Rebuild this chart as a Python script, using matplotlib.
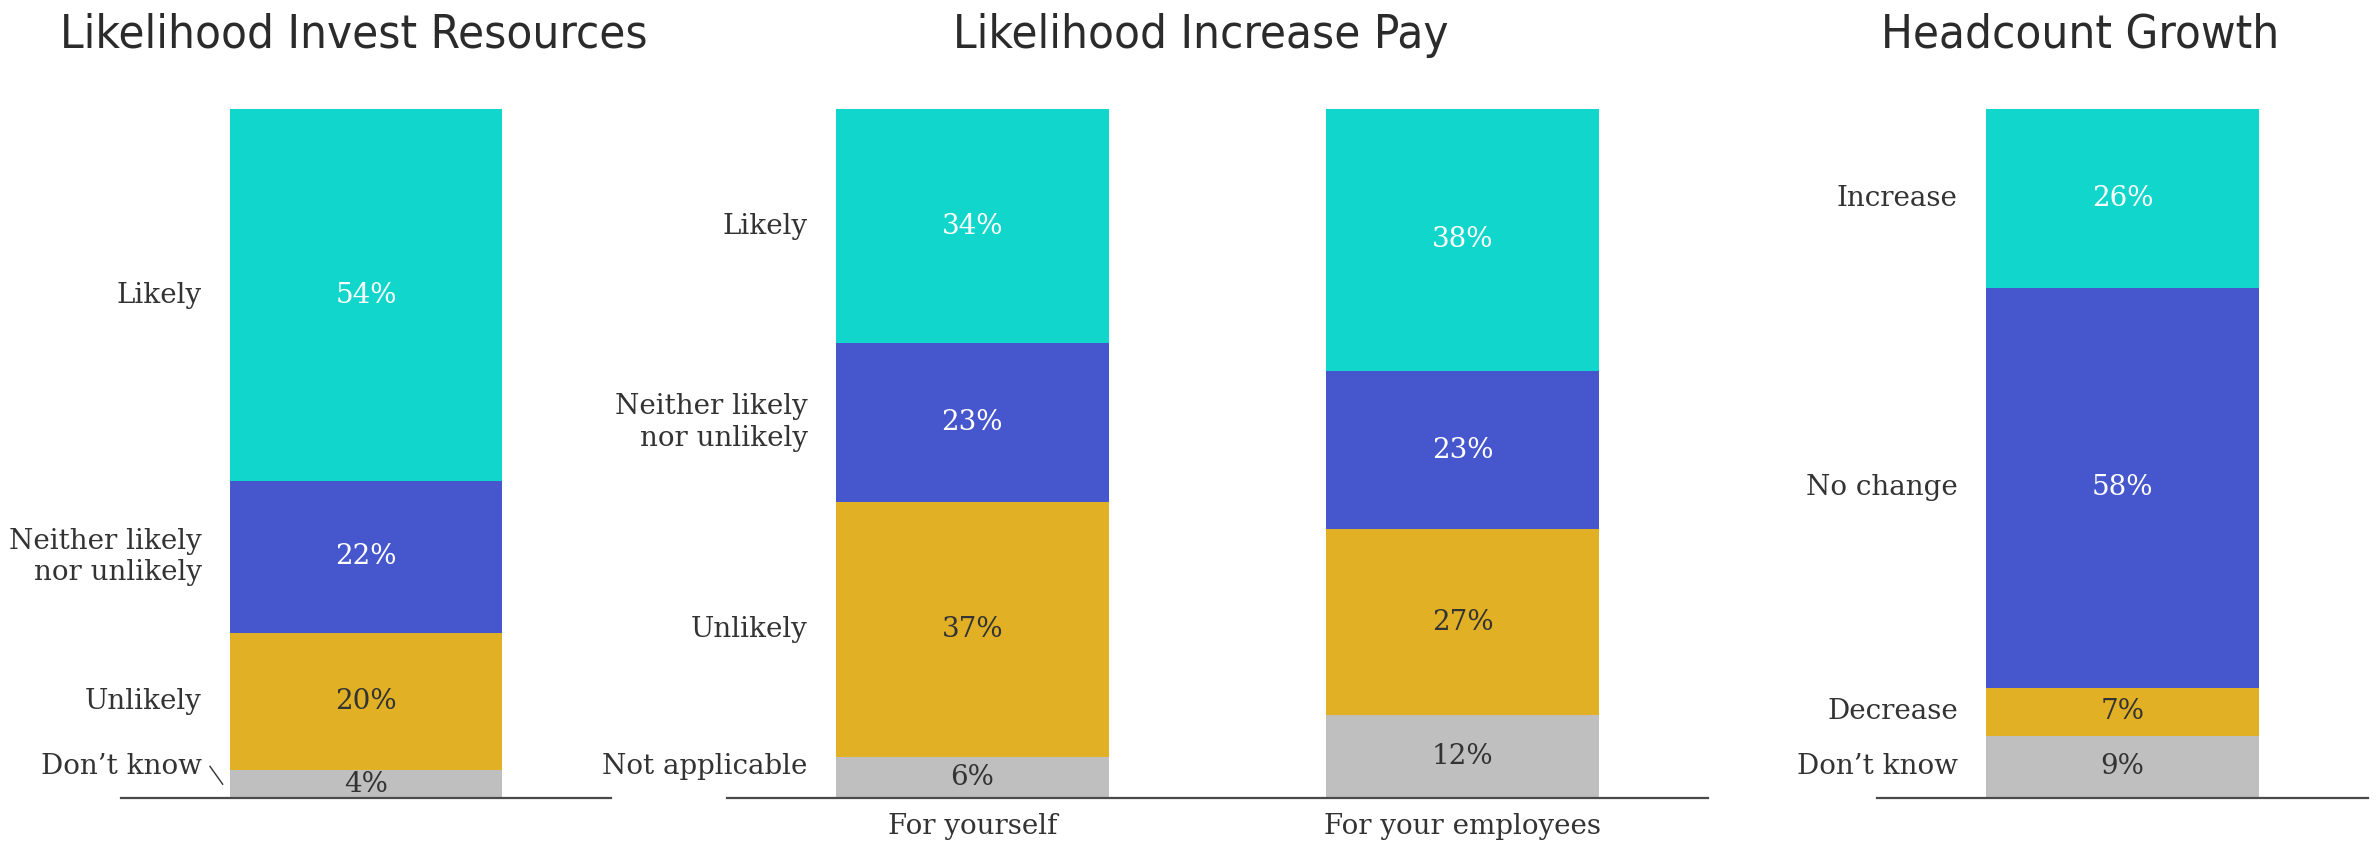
import matplotlib.pyplot as plt

# ---------------- Data ----------------
invest_labels = ["Don’t know", "Unlikely", "Neither likely\nnor unlikely", "Likely"]
invest_vals = [4, 20, 22, 54]

pay_labels = ["Not applicable", "Unlikely", "Neither likely\nnor unlikely", "Likely"]
pay_bars = ["For yourself", "For your employees"]
pay_yourself = [6, 37, 23, 34]
pay_employees = [12, 27, 23, 38]

head_labels = ["Don’t know", "Decrease", "No change", "Increase"]
head_vals = [9, 7, 58, 26]

titles = ["Likelihood Invest Resources", "Likelihood Increase Pay", "Headcount Growth"]

# ---------------- Style ----------------
COLORS = ["#BFBFBF", "#E1B024", "#4657CE", "#10D6CC"]   # bottom -> top
VALUE_TEXT = ["#333333", "#333333", "white", "white"]
TEXT = "#333333"
SERIF = "DejaVu Serif"
BAR_W = 0.557
MIN_LABEL_Y = 4.6

fig = plt.figure(figsize=(23.8, 8.44), dpi=100)


def stacked_panel(rect, xlim, bar_names, series, seg_labels, show_ticks):
    ax = fig.add_axes(rect)
    ax.set_xlim(*xlim)
    ax.set_ylim(0, 100)
    for s in ["top", "left", "right"]:
        ax.spines[s].set_visible(False)
    ax.spines["bottom"].set_color("#4a4a4a")
    ax.spines["bottom"].set_linewidth(1.6)
    ax.set_yticks([])

    xs = list(range(len(bar_names)))
    for xi, vals in zip(xs, series):
        bottom = 0
        for k, v in enumerate(vals):
            ax.bar(xi, v, bottom=bottom, width=BAR_W, color=COLORS[k], linewidth=0)
            ax.text(xi, bottom + v / 2, f"{v}%", ha="center", va="center",
                    fontsize=20, family=SERIF, color=VALUE_TEXT[k])
            bottom += v

    # category labels to the left of the first bar
    x_lab = -BAR_W / 2 - 0.057
    bottom = 0
    for k, v in enumerate(series[0]):
        mid = bottom + v / 2
        y = max(mid, MIN_LABEL_Y)
        ax.text(x_lab, y, seg_labels[k], ha="right", va="center", ma="right",
                fontsize=20, family=SERIF, color=TEXT, linespacing=1.2)
        if y - mid > 2:
            # short leader line for a label pushed up off its segment
            ax.plot([x_lab + 0.017, x_lab + 0.043], [y, mid], color="#333333", lw=1)
        bottom += v

    if show_ticks:
        ax.set_xticks(xs)
        ax.set_xticklabels(bar_names, fontsize=20, family=SERIF, color=TEXT)
        ax.tick_params(axis="x", length=0, pad=11)
    else:
        ax.set_xticks([])
    return ax


bottom_f = 46 / 844
height_f = 689 / 844
stacked_panel([121 / 2380, bottom_f, 490 / 2380, height_f], (-0.5, 0.5),
              ["Invest"], [invest_vals], invest_labels, False)
stacked_panel([727 / 2380, bottom_f, 981 / 2380, height_f], (-0.5, 1.5),
              pay_bars, [pay_yourself, pay_employees], pay_labels, True)
stacked_panel([1877 / 2380, bottom_f, 491 / 2380, height_f], (-0.5, 0.5),
              ["Headcount"], [head_vals], head_labels, False)

title_x = [354 / 2380, 1201 / 2380, 2080 / 2380]
for tx, t in zip(title_x, titles):
    fig.text(tx, 1 - 48 / 844, t, ha="center", va="baseline", fontsize=34,
             family="DejaVu Sans", fontstretch="condensed", color="#2b2b2b")

fig.savefig("out.png", dpi=100, facecolor="white")
plt.close(fig)
